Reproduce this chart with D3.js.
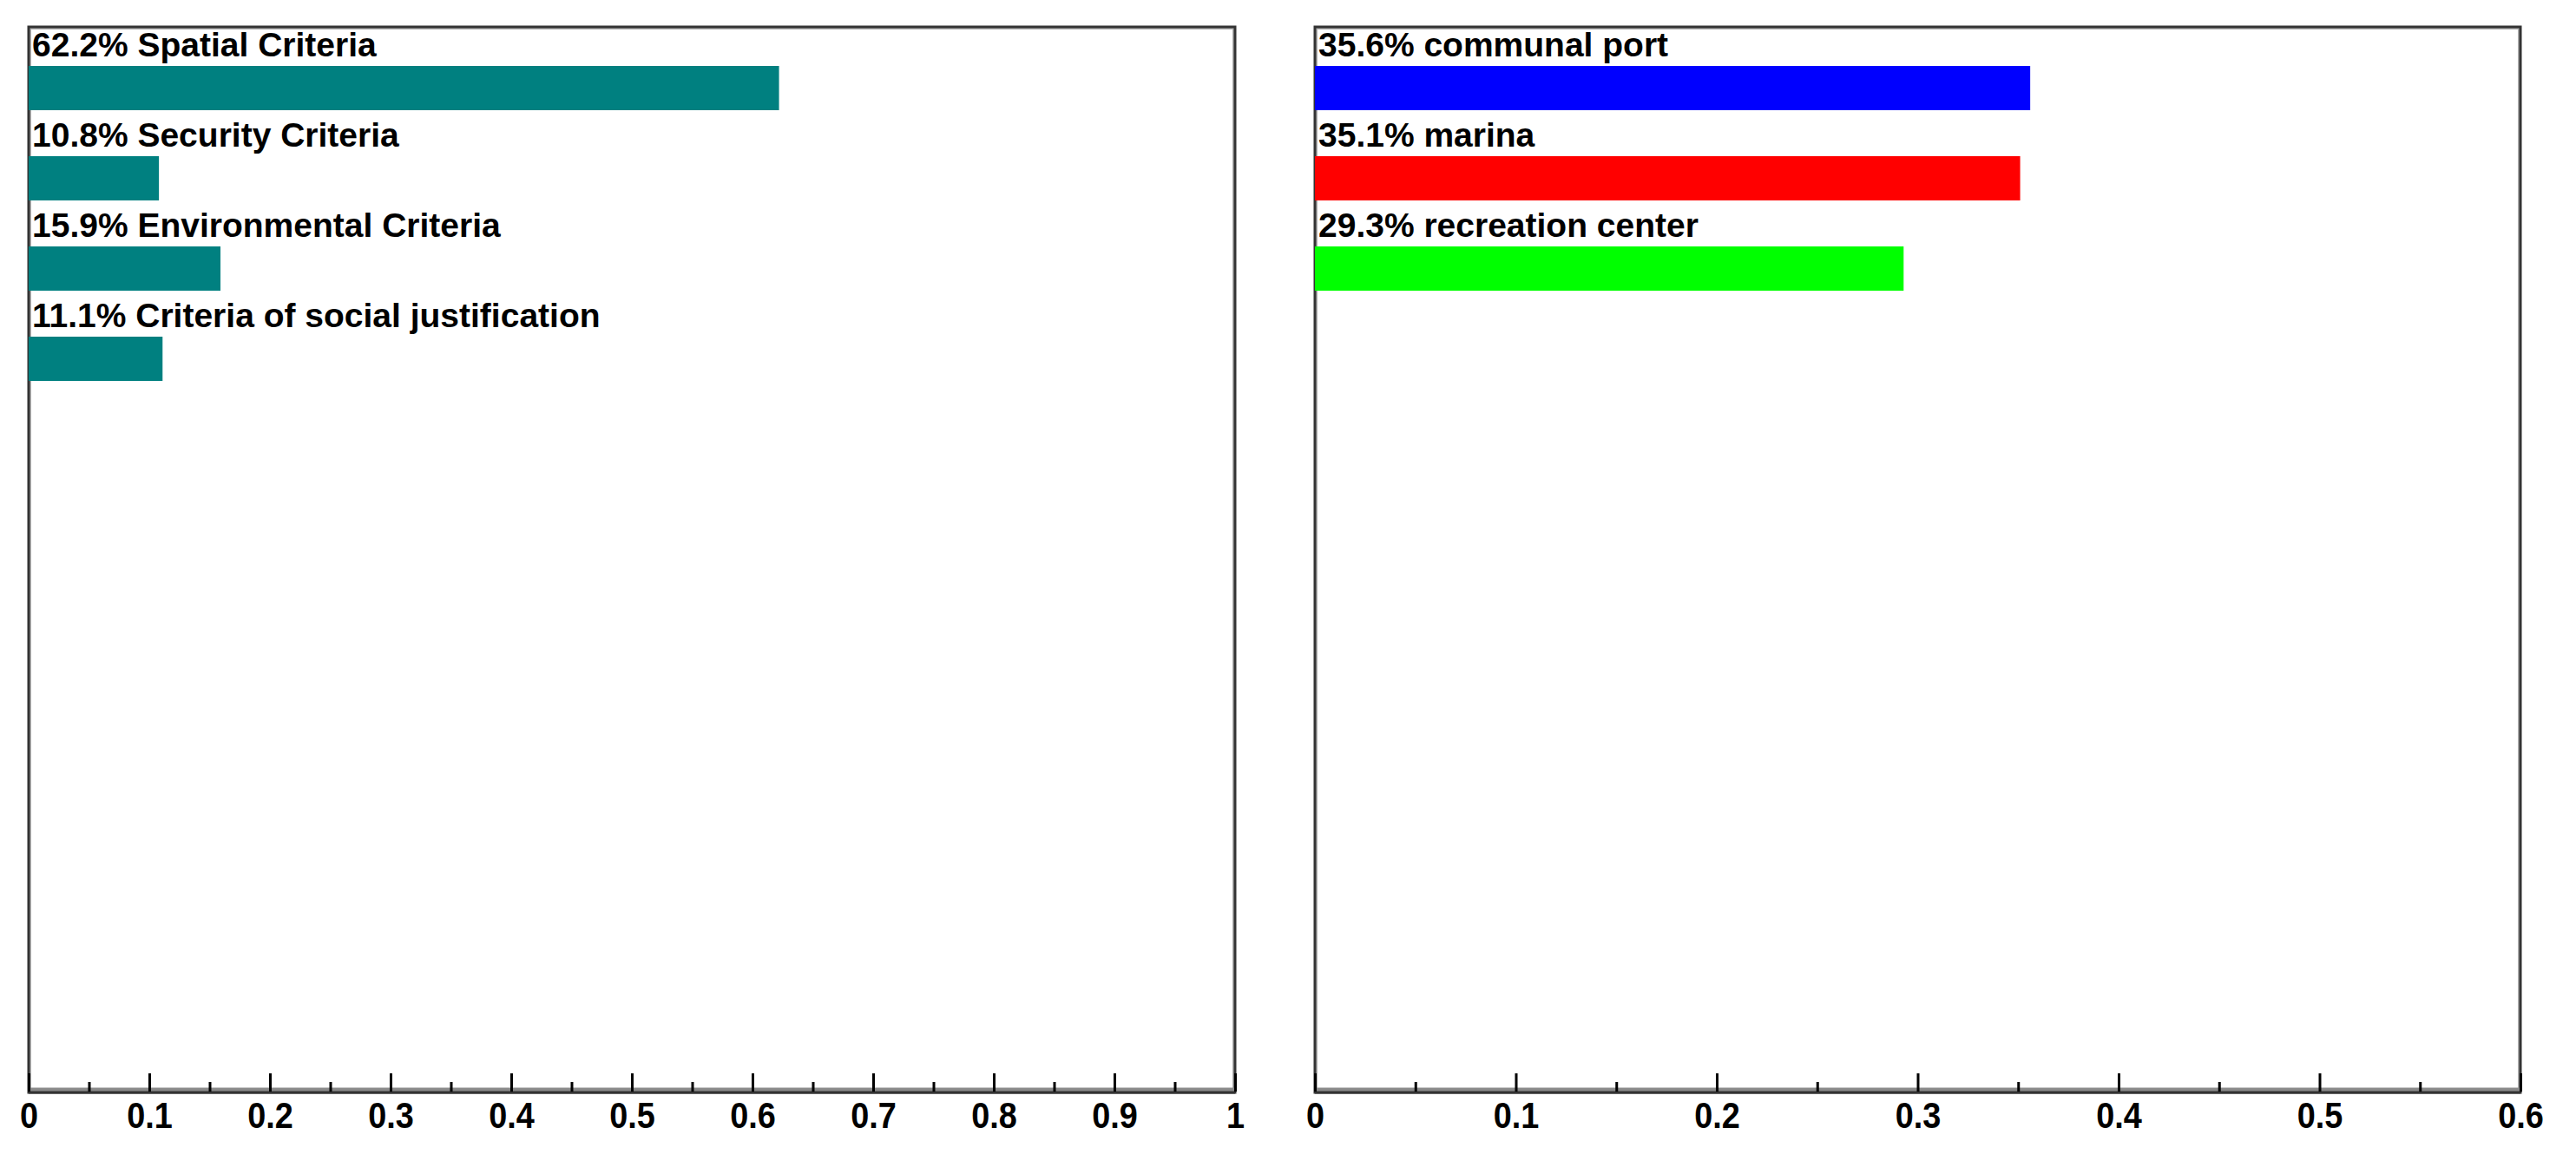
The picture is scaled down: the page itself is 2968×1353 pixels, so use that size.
<!DOCTYPE html>
<html>
<head>
<meta charset="utf-8">
<script src="https://cdn.jsdelivr.net/npm/d3@7"></script>
<style>
  html, body { margin: 0; padding: 0; background: #fff; }
  svg { display: block; }
</style>
</head>
<body>
<svg id="chart" width="2968" height="1353"></svg>
<script>
// ---- data ----
const leftCategories = ["Spatial Criteria", "Security Criteria", "Environmental Criteria", "Criteria of social justification"];
const leftValues = [0.622, 0.108, 0.159, 0.111];
const leftColors = ["#008080", "#008080", "#008080", "#008080"];
const leftTickValues = [0, 0.1, 0.2, 0.3, 0.4, 0.5, 0.6, 0.7, 0.8, 0.9, 1];
const leftTickLabels = ["0", "0.1", "0.2", "0.3", "0.4", "0.5", "0.6", "0.7", "0.8", "0.9", "1"];
const leftMinorTicks = [0.05, 0.15, 0.25, 0.35, 0.45, 0.55, 0.65, 0.75, 0.85, 0.95];

const rightCategories = ["communal port", "marina", "recreation center"];
const rightValues = [0.356, 0.351, 0.293];
const rightColors = ["#0000ff", "#ff0000", "#00ff00"];
const rightTickValues = [0, 0.1, 0.2, 0.3, 0.4, 0.5, 0.6];
const rightTickLabels = ["0", "0.1", "0.2", "0.3", "0.4", "0.5", "0.6"];
const rightMinorTicks = [0.05, 0.15, 0.25, 0.35, 0.45, 0.55];

// ---- layout ----
const svg = d3.select("#chart");
const plotTop = 31, plotBottom = 1259, rowStep = 104;

function panel(opts) {
  const { x0, x1, domainMax, cats, vals, colors, ticks, tickLabels, minor } = opts;
  const g = svg.append("g");
  const x = d3.scaleLinear().domain([0, domainMax]).range([x0, x1]);
  const y = d3.scaleBand().domain(d3.range(cats.length))
    .range([plotTop, plotTop + rowStep * cats.length]);

  // frame
  g.append("rect")
    .attr("x", x0 + 2).attr("y", plotTop + 2)
    .attr("width", x1 - x0 - 4).attr("height", plotBottom - plotTop - 4)
    .attr("fill", "none").attr("stroke", "#b0b0b0").attr("stroke-width", 2);
  g.append("rect")
    .attr("x", x0).attr("y", plotTop)
    .attr("width", x1 - x0).attr("height", plotBottom - plotTop)
    .attr("fill", "none").attr("stroke", "#333").attr("stroke-width", 3);
  // thick bottom axis line
  g.append("line")
    .attr("x1", x0).attr("x2", x1)
    .attr("y1", plotBottom - 3).attr("y2", plotBottom - 3)
    .attr("stroke", "#8a8a8a").attr("stroke-width", 5);
  g.append("line")
    .attr("x1", x0).attr("x2", x1)
    .attr("y1", plotBottom).attr("y2", plotBottom)
    .attr("stroke", "#333").attr("stroke-width", 3);

  // bars
  g.selectAll("rect.bar").data(vals).join("rect")
    .attr("class", "bar")
    .attr("x", x(0))
    .attr("y", (d, i) => y(i) + 45)
    .attr("width", d => x(d) - x(0))
    .attr("height", 51)
    .attr("fill", (d, i) => colors[i]);

  // labels
  g.selectAll("text.lbl").data(vals).join("text")
    .attr("class", "lbl")
    .attr("x", x(0) + 4)
    .attr("y", (d, i) => y(i) + 34)
    .attr("font-family", "'Liberation Sans', Arial, sans-serif")
    .attr("font-weight", "bold")
    .attr("font-size", 39)
    .attr("fill", "#000")
    .text((d, i) => (d * 100).toFixed(1) + "% " + cats[i]);

  // major ticks + labels
  const axis = d3.axisBottom(x)
    .tickValues(ticks)
    .tickFormat((d, i) => tickLabels[i])
    .tickSizeInner(-21)
    .tickSizeOuter(0)
    .tickPadding(11);
  const ag = g.append("g").attr("transform", `translate(0,${plotBottom - 1})`).call(axis);
  ag.select(".domain").remove();
  ag.selectAll(".tick line").attr("stroke", "#000").attr("stroke-width", 3);
  ag.selectAll(".tick text")
    .attr("font-family", "'Liberation Sans', Arial, sans-serif")
    .attr("font-weight", "bold")
    .attr("font-size", 43)
    .attr("fill", "#000")
    .attr("transform", "scale(0.88,1)");

  // minor ticks
  const minorAxis = d3.axisBottom(x)
    .tickValues(minor)
    .tickFormat("")
    .tickSizeInner(-11)
    .tickSizeOuter(0);
  const mg = g.append("g").attr("transform", `translate(0,${plotBottom - 1})`).call(minorAxis);
  mg.select(".domain").remove();
  mg.selectAll(".tick line").attr("stroke", "#000").attr("stroke-width", 3);
}

panel({
  x0: 33, x1: 1423, domainMax: 1,
  cats: leftCategories, vals: leftValues, colors: leftColors,
  ticks: leftTickValues, tickLabels: leftTickLabels, minor: leftMinorTicks
});
panel({
  x0: 1515, x1: 2904, domainMax: 0.6,
  cats: rightCategories, vals: rightValues, colors: rightColors,
  ticks: rightTickValues, tickLabels: rightTickLabels, minor: rightMinorTicks
});
</script>
</body>
</html>
